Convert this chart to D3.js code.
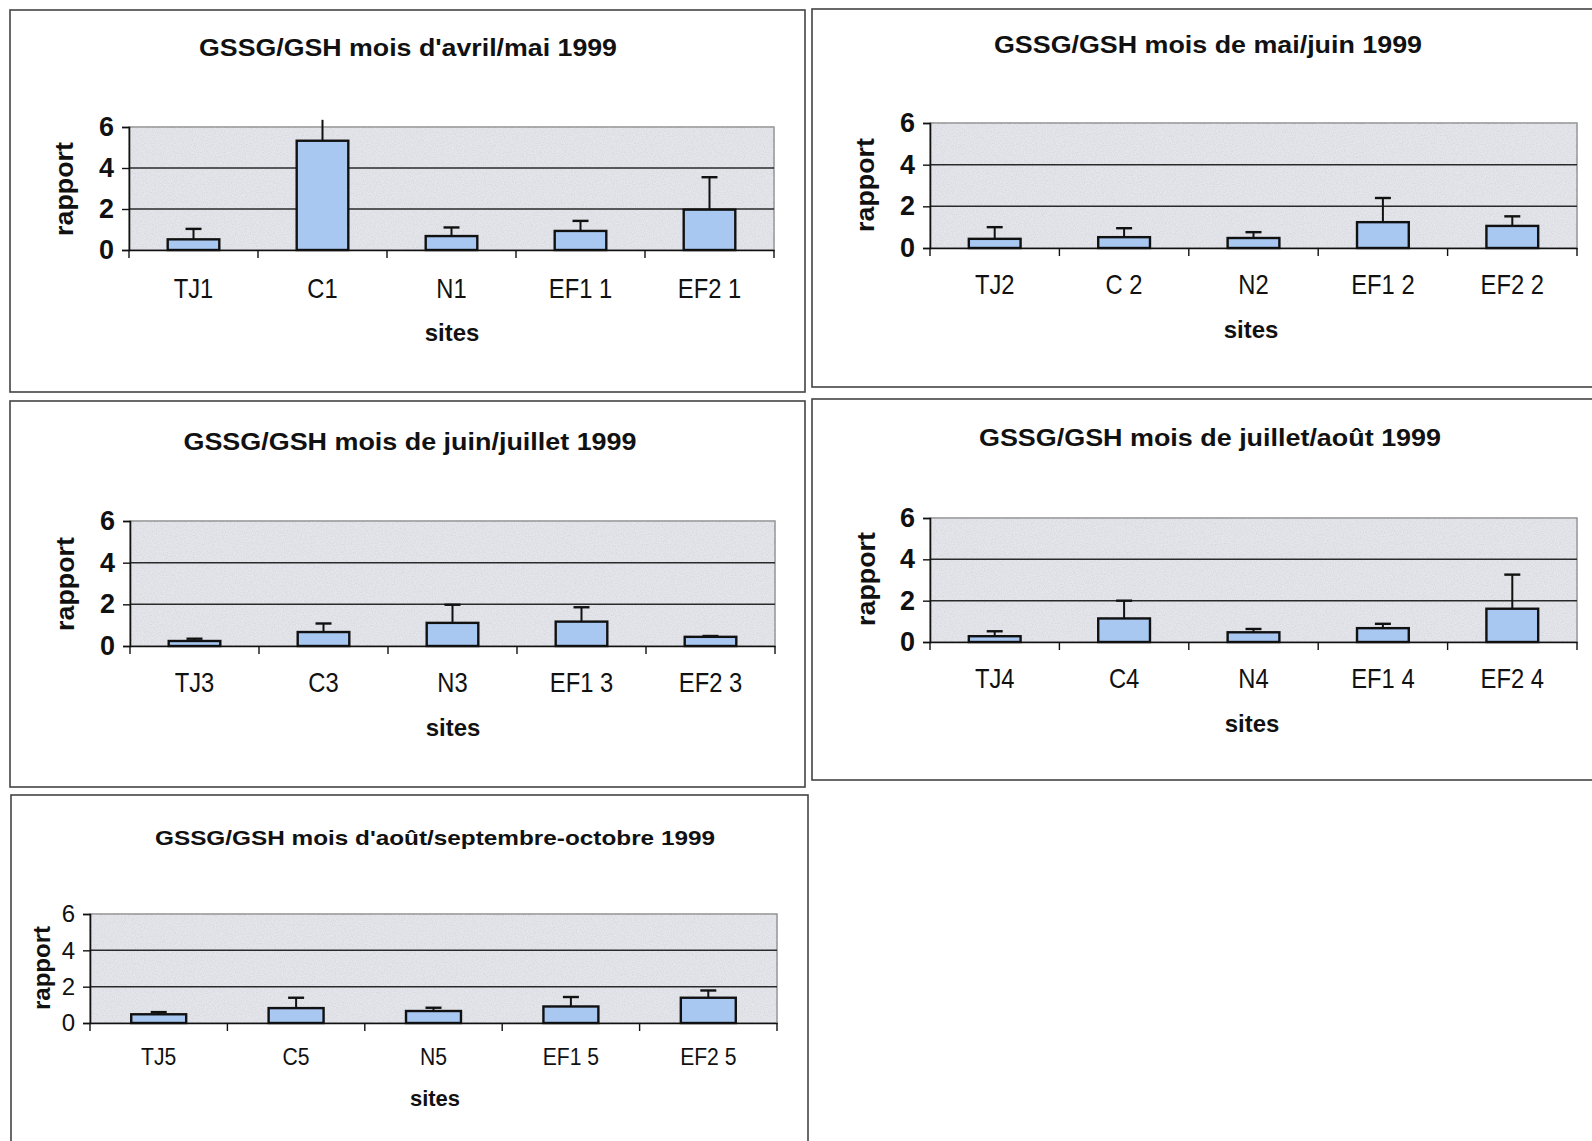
<!DOCTYPE html>
<html><head><meta charset="utf-8">
<script src="https://cdn.jsdelivr.net/npm/d3@7"></script>
<style>html,body{margin:0;padding:0;background:#fff;}svg{display:block;}</style>
</head><body>
<svg id="c" width="1592" height="1141"></svg>
<script>
// ---- data ----
const titles = [
  "GSSG/GSH mois d'avril/mai 1999",
  "GSSG/GSH mois de mai/juin 1999",
  "GSSG/GSH mois de juin/juillet 1999",
  "GSSG/GSH mois de juillet/août 1999",
  "GSSG/GSH mois d'août/septembre-octobre 1999"
];
const categories1 = ["TJ1","C1","N1","EF1 1","EF2 1"];
const categories2 = ["TJ2","C 2","N2","EF1 2","EF2 2"];
const categories3 = ["TJ3","C3","N3","EF1 3","EF2 3"];
const categories4 = ["TJ4","C4","N4","EF1 4","EF2 4"];
const categories5 = ["TJ5","C5","N5","EF1 5","EF2 5"];
const means1 = [0.52,5.33,0.68,0.93,1.97];
const means2 = [0.44,0.52,0.48,1.24,1.06];
const means3 = [0.24,0.67,1.11,1.17,0.44];
const means4 = [0.28,1.14,0.47,0.67,1.61];
const means5 = [0.48,0.82,0.66,0.91,1.39];
const errors1 = [0.51,1.02,0.42,0.49,1.58];
const errors2 = [0.56,0.43,0.28,1.16,0.46];
const errors3 = [0.11,0.41,0.87,0.69,0.04];
const errors4 = [0.24,0.86,0.16,0.21,1.65];
const errors5 = [0.12,0.57,0.18,0.52,0.40];
const yTicks = [0,2,4,6];
const yLabel = "rapport";
const xLabel = "sites";

// ---- layout (positions only) ----
const layout = [
  {fx:10, fy:10, fw:795, fh:382, px:129, py:127, pw:645, ph:123, tx:408, ty:56, tl:418, lx:64, ly:189, xl:298, sx:452, sy:341, ts:23, tick:27, yts:27, ytb:true, rl:94},
  {fx:812, fy:9, fw:790, fh:378, px:930, py:123, pw:647, ph:125, tx:1208, ty:53, tl:428, lx:865, ly:185, xl:294, sx:1251, sy:338, ts:23, tick:27, yts:27, ytb:true, rl:94},
  {fx:10, fy:401, fw:795, fh:386, px:130, py:521, pw:645, ph:125, tx:410, ty:450, tl:453, lx:65, ly:584, xl:692, sx:453, sy:736, ts:23, tick:27, yts:27, ytb:true, rl:94},
  {fx:812, fy:399, fw:790, fh:381, px:930, py:518, pw:647, ph:124, tx:1210, ty:446, tl:462, lx:866, ly:579, xl:688, sx:1252, sy:732, ts:23, tick:27, yts:27, ytb:true, rl:94},
  {fx:11, fy:795, fw:797, fh:360, px:90, py:914, pw:687, ph:109, tx:435, ty:845, tl:560, lx:41, ly:968, xl:1065, sx:435, sy:1106, ts:21, tick:24, yts:24, ytb:false, rl:84}
];

const panels = [
  {cats:categories1, m:means1, e:errors1},
  {cats:categories2, m:means2, e:errors2},
  {cats:categories3, m:means3, e:errors3},
  {cats:categories4, m:means4, e:errors4},
  {cats:categories5, m:means5, e:errors5}
];

const svg = d3.select("#c");
const defs = svg.append("defs");
const flt = defs.append("filter").attr("id","grain").attr("x",0).attr("y",0).attr("width","100%").attr("height","100%");
flt.append("feTurbulence").attr("type","fractalNoise").attr("baseFrequency","0.9").attr("numOctaves",2).attr("seed",3).attr("result","n");
flt.append("feColorMatrix").attr("in","n").attr("type","matrix")
  .attr("values","0 0 0 0 0.55  0 0 0 0 0.56  0 0 0 0 0.6  0 0 0 -1.6 1.0").attr("result","g");
flt.append("feComposite").attr("in","g").attr("in2","SourceGraphic").attr("operator","in");

const font = "'Liberation Sans', Arial, sans-serif";

panels.forEach((p, i) => {
  const L = layout[i];
  const g = svg.append("g");
  // frame
  g.append("rect").attr("x",L.fx).attr("y",L.fy).attr("width",L.fw).attr("height",L.fh)
    .attr("fill","none").attr("stroke","#444").attr("stroke-width",1.6);

  const x = d3.scaleBand().domain(p.cats).range([L.px, L.px+L.pw]).paddingInner(0.6).paddingOuter(0.3);
  const y = d3.scaleLinear().domain([0,6]).range([L.py+L.ph, L.py]);

  // plot area background
  g.append("rect").attr("x",L.px).attr("y",L.py).attr("width",L.pw).attr("height",L.ph)
    .attr("fill","#e4e6eb").attr("stroke","#8a8a8a").attr("stroke-width",1.4);
  g.append("rect").attr("x",L.px).attr("y",L.py).attr("width",L.pw).attr("height",L.ph)
    .attr("fill","#ffffff").attr("filter","url(#grain)").attr("opacity",0.55);

  // gridlines
  g.selectAll(".grid").data(yTicks.filter(t => t>0 && t<6)).join("line")
    .attr("x1",L.px).attr("x2",L.px+L.pw).attr("y1",d=>y(d)).attr("y2",d=>y(d))
    .attr("stroke","#2a2a2a").attr("stroke-width",1.5);

  // bars
  g.selectAll(".bar").data(p.m).join("rect")
    .attr("x",(d,j)=>x(p.cats[j])).attr("width",x.bandwidth())
    .attr("y",d=>y(d)).attr("height",d=>y(0)-y(d))
    .attr("fill","#a8c8f2").attr("stroke","#111").attr("stroke-width",2.4);

  // error bars
  p.m.forEach((d,j)=>{
    const cx = x(p.cats[j]) + x.bandwidth()/2;
    const top = d + p.e[j];
    g.append("line").attr("x1",cx).attr("x2",cx).attr("y1",y(d)).attr("y2",y(top))
      .attr("stroke","#111").attr("stroke-width",2);
    if (top <= 6) {
      g.append("line").attr("x1",cx-8).attr("x2",cx+8).attr("y1",y(top)).attr("y2",y(top))
        .attr("stroke","#111").attr("stroke-width",2.4);
    }
  });

  // y axis
  const ya = d3.axisLeft(y).tickValues(yTicks).tickSize(7).tickPadding(8).tickFormat(d3.format("d"));
  const yg = g.append("g").attr("transform",`translate(${L.px},0)`).call(ya);
  yg.select(".domain").attr("stroke","#111").attr("stroke-width",1.6);
  yg.selectAll(".tick line").attr("stroke","#111").attr("stroke-width",1.4);
  yg.selectAll(".tick text").attr("font-family",font).attr("font-size",L.yts)
    .attr("font-weight",L.ytb?"bold":"normal").attr("fill","#111");

  // x axis
  const xa = d3.axisBottom(x).tickSize(0).tickFormat(()=>"");
  const xg = g.append("g").attr("transform",`translate(0,${y(0)})`).call(xa);
  xg.select(".domain").attr("stroke","#111").attr("stroke-width",1.6);
  const bounds = d3.range(p.cats.length+1).map(k => x.range()[0] + k*x.step());
  g.selectAll(".xt").data(bounds).join("line")
    .attr("x1",d=>d).attr("x2",d=>d).attr("y1",y(0)).attr("y2",y(0)+8)
    .attr("stroke","#111").attr("stroke-width",1.4);
  g.selectAll(".xl").data(p.cats).join("text")
    .attr("transform",d=>`translate(${x(d)+x.bandwidth()/2},${L.xl}) scale(0.88,1)`)
    .attr("text-anchor","middle").attr("font-family",font).attr("font-size",L.tick)
    .attr("fill","#111").text(d=>d);

  // title
  g.append("text").attr("x",L.tx).attr("y",L.ty).attr("text-anchor","middle")
    .attr("font-family",font).attr("font-weight","bold").attr("font-size",L.ts)
    .attr("textLength",L.tl).attr("lengthAdjust","spacingAndGlyphs")
    .attr("fill","#111").text(titles[i]);

  // axis titles
  g.append("text").attr("transform",`translate(${L.lx+9},${L.ly}) rotate(-90)`)
    .attr("text-anchor","middle").attr("font-family",font).attr("font-weight","bold")
    .attr("font-size",L.ts+3).attr("textLength",L.rl).attr("lengthAdjust","spacingAndGlyphs")
    .attr("fill","#111").text(yLabel);
  g.append("text").attr("x",L.sx).attr("y",L.sy).attr("text-anchor","middle")
    .attr("font-family",font).attr("font-weight","bold").attr("font-size",L.ts+1)
    .attr("fill","#111").text(xLabel);
});
</script>
</body></html>
